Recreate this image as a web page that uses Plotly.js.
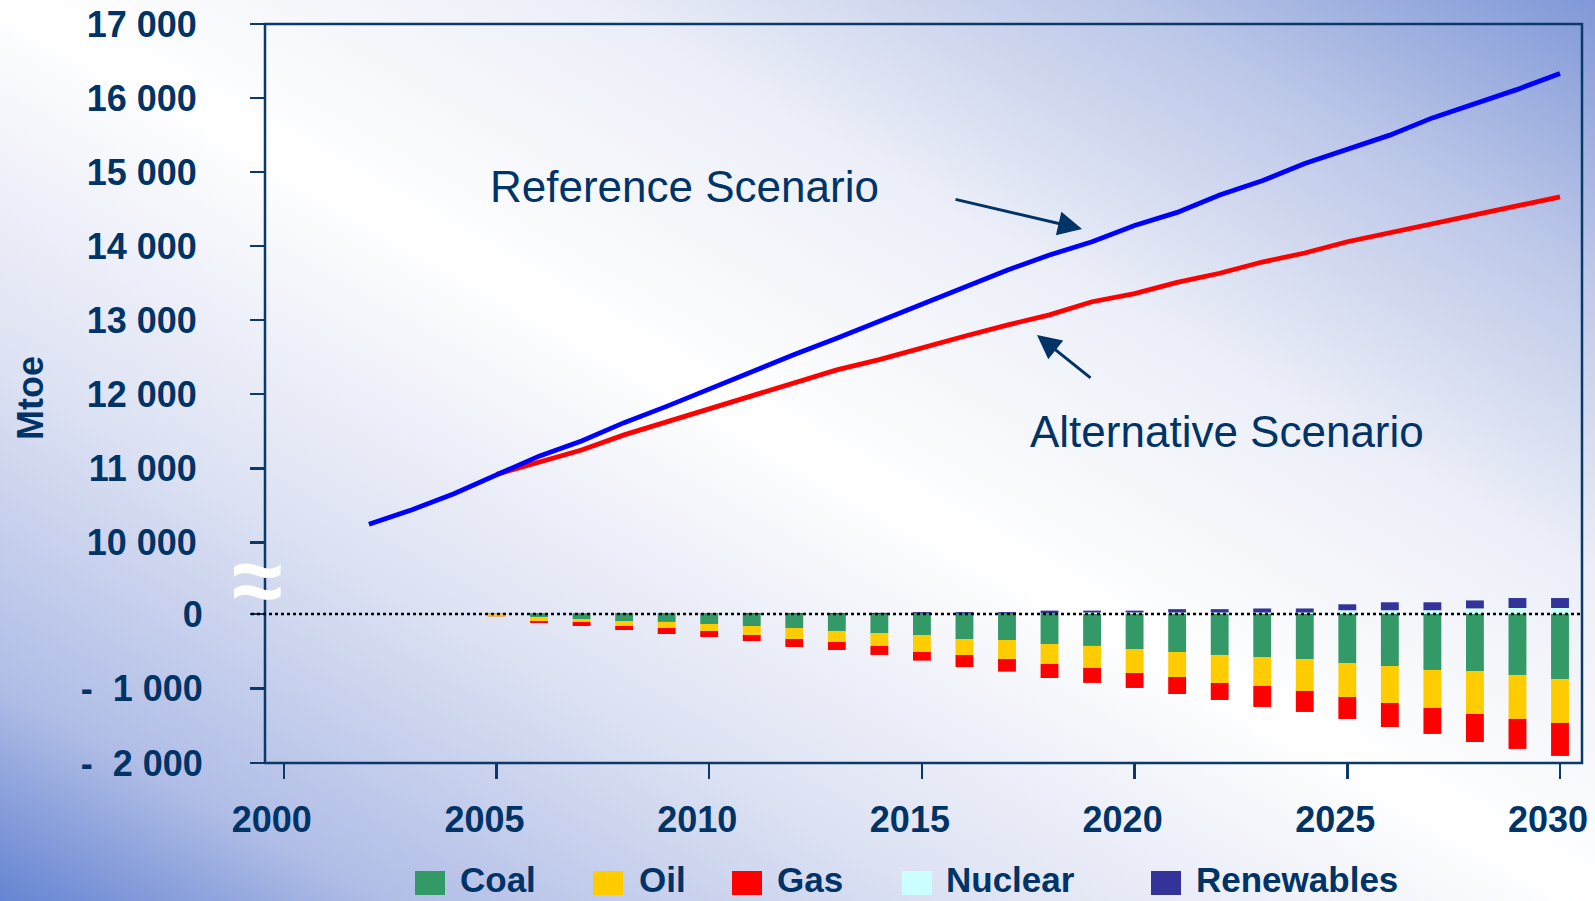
<!DOCTYPE html>
<html>
<head>
<meta charset="utf-8">
<script src="https://cdn.plot.ly/plotly-3.0.1.min.js"></script>
<style>
  html, body { margin: 0; padding: 0; }
  body {
    width: 1595px; height: 901px; overflow: hidden;
    background: linear-gradient(to top right, #6584d2 0%, #b0bde6 12%, #dde2f3 30%, #ffffff 50%, #eceff8 68%, #bcc7e8 85%, #8098d8 100%);
  }
  #chart { width: 1595px; height: 901px; }
</style>
</head>
<body>
<div id="chart"></div>
<script>
// ---------- data ----------
const lineYearsRef = [2002, 2003, 2004, 2005, 2006, 2007, 2008, 2009, 2010, 2011, 2012, 2013, 2014, 2015, 2016, 2017, 2018, 2019, 2020, 2021, 2022, 2023, 2024, 2025, 2026, 2027, 2028, 2029, 2030];
const referenceScenario = [10243, 10437, 10656, 10917, 11164, 11369, 11616, 11836, 12069, 12316, 12536, 12756, 12989, 13222, 13455, 13674, 13880, 14059, 14278, 14456, 14690, 14882, 15115, 15307, 15499, 15732, 15924, 16117, 16333];

const lineYearsAlt = [2005, 2006, 2007, 2008, 2009, 2010, 2011, 2012, 2013, 2014, 2015, 2016, 2017, 2018, 2019, 2020, 2021, 2022, 2023, 2024, 2025, 2026, 2027, 2028, 2029, 2030];
const alternativeScenario = [10917, 11082, 11246, 11451, 11630, 11809, 11987, 12165, 12329, 12467, 12632, 12783, 12934, 13072, 13249, 13359, 13510, 13634, 13785, 13907, 14059, 14183, 14306, 14429, 14552, 14665];

const barYears = [2005, 2006, 2007, 2008, 2009, 2010, 2011, 2012, 2013, 2014, 2015, 2016, 2017, 2018, 2019, 2020, 2021, 2022, 2023, 2024, 2025, 2026, 2027, 2028, 2029, 2030];
const coal       = [-3, -40, -67, -94, -107, -134, -161, -188, -228, -255, -282, -336, -349, -403, -429, -470, -510, -550, -577, -604, -658, -698, -751, -765, -818, -872];
const oil        = [-28, -54, -40, -67, -81, -94, -121, -148, -148, -174, -228, -215, -255, -268, -295, -322, -336, -376, -389, -429, -456, -497, -510, -577, -590, -590];
const gas        = [-3, -27, -54, -54, -81, -81, -81, -107, -107, -121, -116, -161, -170, -188, -201, -201, -228, -228, -282, -282, -295, -322, -349, -376, -403, -443];
const nuclear    = [0, 0, 0, 0, 0, 0, 0, 0, 0, 0, 3, 3, 3, 5, 20, 20, 20, 20, 20, 20, 50, 50, 50, 75, 80, 80];
const renewables = [5, 8, 8, 10, 10, 10, 12, 12, 12, 15, 22, 22, 22, 40, 25, 25, 45, 45, 54, 54, 80, 107, 107, 107, 134, 134];

const xTickVals = [2000, 2005, 2010, 2015, 2020, 2025, 2030];
const xTickText = ["2000", "2005", "2010", "2015", "2020", "2025", "2030"];
const upperTickVals = [10000, 11000, 12000, 13000, 14000, 15000, 16000, 17000];
const upperTickText = ["10 000", "11 000", "12 000", "13 000", "14 000", "15 000", "16 000", "17 000"];
const lowerTickVals = [-2000, -1000, 0];
const lowerTickText = ["-\u00a0 2 000", "-\u00a0 1 000", "0"];

const seriesNames = ["Coal", "Oil", "Gas", "Nuclear", "Renewables"];
const seriesColors = ["#339966", "#FFCC00", "#FF0000", "#CCFFFF", "#333399"];
const barSeries = [coal, oil, gas, nuclear, renewables];

// ---------- layout helpers (pixel -> paper) ----------
const W = 1595, H = 901;
const M = { l: 265, r: 13, t: 24, b: 138 };
const PW = W - M.l - M.r, PH = H - M.t - M.b;
const px = x => (x - M.l) / PW;
const py = y => (H - M.b - y) / PH;

const NAVY = "#003366";
const LINE_NAVY = "#0b3a6a";
const SANS = "Liberation Sans, Arial, sans-serif";
const tickFont = { family: SANS, size: 36, color: NAVY, weight: "bold" };

const traces = [];
barSeries.forEach((vals, i) => {
  traces.push({
    type: "bar", name: seriesNames[i], x: barYears, y: vals,
    xaxis: "x", yaxis: "y", width: 0.42,
    marker: { color: seriesColors[i], line: { width: 0 } },
    showlegend: false, hoverinfo: "skip"
  });
});
traces.push({
  type: "scatter", mode: "lines", name: "Alternative Scenario",
  x: lineYearsAlt, y: alternativeScenario, xaxis: "x", yaxis: "y2",
  line: { color: "#FF0000", width: 4.8 }, showlegend: false
});
traces.push({
  type: "scatter", mode: "lines", name: "Reference Scenario",
  x: lineYearsRef, y: referenceScenario, xaxis: "x", yaxis: "y2",
  line: { color: "#0000FF", width: 4.8 }, showlegend: false
});

const split = py(578);

const annotations = [
  { xref: "paper", yref: "paper", x: px(684), y: py(186), text: "Reference Scenario", showarrow: false,
    font: { family: SANS, size: 44, color: NAVY },
    xanchor: "center", yanchor: "middle" },
  { xref: "paper", yref: "paper", x: px(1227), y: py(432), text: "Alternative Scenario", showarrow: false,
    font: { family: SANS, size: 44, color: NAVY },
    xanchor: "center", yanchor: "middle" },
  { xref: "paper", yref: "paper", x: px(1082), y: py(229), ax: -128, ay: -30, axref: "pixel", ayref: "pixel",
    text: "", showarrow: true, arrowhead: 2, arrowsize: 1.6, arrowwidth: 3, arrowcolor: NAVY },
  { xref: "paper", yref: "paper", x: px(1037), y: py(335), ax: 55, ay: 44, axref: "pixel", ayref: "pixel",
    text: "", showarrow: true, arrowhead: 2, arrowsize: 1.6, arrowwidth: 3, arrowcolor: NAVY },
  { xref: "paper", yref: "paper", x: px(30), y: py(398), text: "Mtoe", showarrow: false, textangle: -90,
    font: { family: SANS, size: 36, color: NAVY, weight: "bold" },
    xanchor: "center", yanchor: "middle" },
  { xref: "paper", yref: "paper", x: px(257), y: py(580), text: "≈", showarrow: false,
    font: { family: SANS, size: 92, color: "#FFFFFF", weight: "bold" },
    xanchor: "center", yanchor: "middle" }
];

const shapes = [
  { type: "rect", xref: "paper", yref: "paper", x0: 0, x1: 1, y0: 0, y1: 1,
    line: { color: LINE_NAVY, width: 2.5 }, fillcolor: "rgba(0,0,0,0)", layer: "above" },
  { type: "line", xref: "paper", yref: "y", x0: px(251), x1: 1, y0: 0, y1: 0,
    line: { color: "#000000", width: 2.5, dash: "dot" }, layer: "above" }
];

// custom legend (large squares like the original)
const legendSquares = [415, 593, 732, 902, 1151];
const legendTextX = [458, 637, 775, 944, 1194];
seriesNames.forEach((n, i) => {
  shapes.push({ type: "rect", xref: "paper", yref: "paper",
    x0: px(legendSquares[i]), x1: px(legendSquares[i] + 30), y0: py(895), y1: py(871),
    fillcolor: seriesColors[i], line: { width: 0 } });
  annotations.push({ xref: "paper", yref: "paper", x: px(legendTextX[i]), y: py(879), text: n,
    showarrow: false, xanchor: "left", yanchor: "middle",
    font: { family: SANS, size: 35, color: NAVY, weight: "bold" } });
});

const layout = {
  width: W, height: H, margin: M,
  paper_bgcolor: "rgba(0,0,0,0)", plot_bgcolor: "rgba(0,0,0,0)",
  barmode: "relative", showlegend: false,
  xaxis: {
    range: [1999.558, 2030.517], tickvals: xTickVals, ticktext: xTickText,
    ticks: "outside", ticklen: 15, tickwidth: 2.5, tickcolor: LINE_NAVY,
    showgrid: false, zeroline: false, showline: false, anchor: "y",
    tickfont: tickFont, ticklabelstandoff: 10, ticklabelshift: -12
  },
  yaxis: {
    domain: [0, split], range: [-2000, 483], tickvals: lowerTickVals, ticktext: lowerTickText,
    ticks: "outside", ticklen: 14, tickwidth: 2.5, tickcolor: LINE_NAVY,
    showgrid: false, zeroline: false, showline: false, anchor: "x",
    tickfont: tickFont, ticklabelstandoff: 40
  },
  yaxis2: {
    domain: [split, 1], range: [9518, 17000], tickvals: upperTickVals, ticktext: upperTickText,
    ticks: "outside", ticklen: 14, tickwidth: 2.5, tickcolor: LINE_NAVY,
    showgrid: false, zeroline: false, showline: false, anchor: "x",
    tickfont: tickFont, ticklabelstandoff: 46
  },
  annotations: annotations,
  shapes: shapes
};

Plotly.newPlot("chart", traces, layout, { staticPlot: true, displayModeBar: false });
</script>
</body>
</html>
